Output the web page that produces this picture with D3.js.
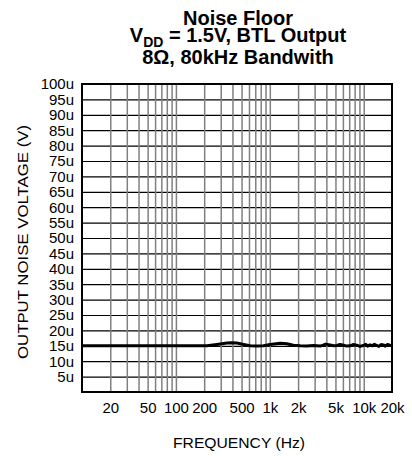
<!DOCTYPE html>
<html><head><meta charset="utf-8">
<script src="https://cdn.jsdelivr.net/npm/d3@7"></script>
<style>body{margin:0;background:#fff}svg{display:block}text{font-family:"Liberation Sans",Arial,sans-serif}</style>
</head><body><svg id="c" width="412" height="456"></svg>
<script>
// ---- data ----
const freqHz = [10, 50, 100, 150, 200, 214, 273, 349, 394, 446, 525, 617, 728, 855, 1007, 1288, 1517, 1783, 2100, 2475, 2910, 3427, 3700, 3943, 4375, 4800, 5160, 5600, 6070, 6600, 7150, 7700, 8430, 9100, 9910, 10500, 11000, 11670, 12300, 13000, 13740, 14500, 15300, 16180, 17000, 17900, 19050, 20000];
const noiseUV = [15.0, 15.0, 15.0, 15.0, 15.0, 15.0, 15.45, 15.9, 16.0, 15.9, 15.45, 15.0, 14.9, 15.0, 15.45, 15.8, 15.65, 15.2, 15.0, 14.9, 15.1, 14.9, 15.2, 15.55, 15.3, 15.0, 15.1, 15.4, 15.2, 14.9, 15.0, 15.4, 15.2, 14.8, 15.1, 15.5, 14.9, 15.3, 15.0, 15.5, 15.1, 14.8, 15.4, 15.3, 14.9, 15.4, 15.2, 15.1];
const yTickValues = [5, 10, 15, 20, 25, 30, 35, 40, 45, 50, 55, 60, 65, 70, 75, 80, 85, 90, 95, 100];
const xTickValues = [20, 50, 100, 200, 500, 1000, 2000, 5000, 10000, 20000];
const xTickLabels = ["20", "50", "100", "200", "500", "1k", "2k", "5k", "10k", "20k"];
const xGridValues = [20, 30, 40, 50, 60, 70, 80, 90, 100, 200, 300, 400, 500, 600, 700, 800, 900, 1000, 2000, 3000, 4000, 5000, 6000, 7000, 8000, 9000, 10000];
const titleLines = ["Noise Floor", "8Ω, 80kHz Bandwith"];

// ---- layout ----
const L = 82, R = 392, T = 84, B = 392;
const svg = d3.select("#c");
const x = d3.scaleLog().domain([10, 20000]).range([L, R]);
const y = d3.scaleLinear().domain([0, 100]).range([B, T]);
const FF = '"Liberation Sans",Arial,sans-serif';

// horizontal grid
svg.append("g").attr("transform", `translate(${L},0)`)
  .call(d3.axisLeft(y).tickValues(yTickValues).tickSize(-(R - L)).tickFormat(""))
  .call(g => g.select(".domain").remove())
  .call(g => g.selectAll("line").attr("stroke", "#000").attr("stroke-width", 1.2));

// vertical grid
svg.append("g").attr("transform", `translate(0,${B})`)
  .call(d3.axisBottom(x).tickValues(xGridValues).tickSize(-(B - T)).tickFormat(""))
  .call(g => g.select(".domain").remove())
  .call(g => g.selectAll("line").attr("stroke", "#808080").attr("stroke-width", 1.5));

// frame
svg.append("rect").attr("x", L).attr("y", T).attr("width", R - L).attr("height", B - T)
  .attr("fill", "none").attr("stroke", "#000").attr("stroke-width", 2);

// y labels
svg.append("g").attr("transform", `translate(${L},0)`)
  .call(d3.axisLeft(y).tickValues(yTickValues).tickSize(0).tickPadding(8).tickFormat(d => d + "u"))
  .call(g => g.select(".domain").remove())
  .call(g => g.selectAll("text").attr("font-size", 15).attr("fill", "#000").attr("font-family", FF));

// x labels
svg.append("g").attr("transform", `translate(0,${B})`)
  .call(d3.axisBottom(x).tickValues(xTickValues).tickSize(0).tickPadding(10).tickFormat((d, i) => xTickLabels[i]))
  .call(g => g.select(".domain").remove())
  .call(g => g.selectAll("text").attr("font-size", 15).attr("fill", "#000").attr("font-family", FF));

// data line
svg.append("path").datum(freqHz.map((f, i) => [f, noiseUV[i]]))
  .attr("fill", "none").attr("stroke", "#000").attr("stroke-width", 3).attr("stroke-linejoin", "round")
  .attr("d", d3.line().x(d => x(d[0])).y(d => y(d[1])));

// titles
const cx = 238;
svg.append("text").attr("x", cx).attr("y", 25).attr("text-anchor", "middle")
  .attr("font-size", 20).attr("font-weight", "bold").text(titleLines[0]);
const t2 = svg.append("text").attr("x", cx).attr("y", 42).attr("text-anchor", "middle")
  .attr("font-size", 20).attr("font-weight", "bold");
t2.append("tspan").text("V");
t2.append("tspan").attr("font-size", 14).attr("dy", 5).text("DD");
t2.append("tspan").attr("dy", -5).text(" = 1.5V, BTL Output");
svg.append("text").attr("x", cx).attr("y", 64).attr("text-anchor", "middle")
  .attr("font-size", 20).attr("font-weight", "bold").text(titleLines[1]);

// axis titles
svg.append("text").attr("x", 239).attr("y", 448).attr("text-anchor", "middle")
  .attr("font-size", 15).attr("textLength", 132).attr("lengthAdjust", "spacingAndGlyphs").text("FREQUENCY (Hz)");
svg.append("text").attr("transform", "translate(28,242) rotate(-90)").attr("text-anchor", "middle")
  .attr("font-size", 15).attr("textLength", 234).attr("lengthAdjust", "spacingAndGlyphs").text("OUTPUT NOISE VOLTAGE (V)");
</script></body></html>
